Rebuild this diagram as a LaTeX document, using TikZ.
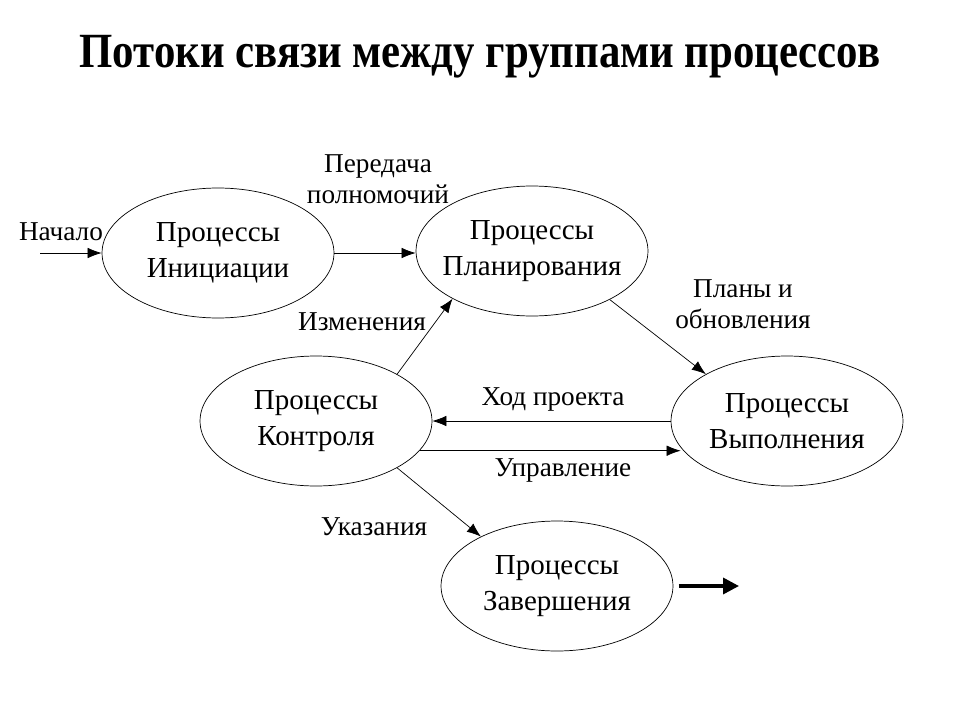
\documentclass[tikz,border=0pt]{standalone}
\usepackage{fontspec}
\setmainfont{Liberation Serif}
\usetikzlibrary{arrows.meta,positioning,shapes}

\begin{document}
\begin{tikzpicture}[x=0.02cm,y=-0.02cm,
  proc/.style={draw,ellipse,minimum width=4.64cm,minimum height=2.6cm,
    inner xsep=-0.4cm,inner ysep=0pt,
    align=center,font=\fontsize{16.5}{20.5}\selectfont},
  lbl/.style={align=center,inner sep=0pt,font=\fontsize{15.5}{17.5}\selectfont},
  flow/.style={-{Latex[length=8pt,width=6pt]}},
  bigflow/.style={line width=2pt,-{Triangle[length=9pt,width=9pt]}}]
  \useasboundingbox (0,0) rectangle (960,720); %Page frame

  \node[font=\bfseries\fontsize{28}{32}\selectfont\addfontfeature{FakeStretch=0.87}]
    (title) at (480,57) {Потоки связи между группами процессов};

  %Process groups
  \node[proc] (init) at (218,253) {Процессы\\Инициации};
  \node[proc] (plan) at (532,251) {Процессы\\Планирования};
  \node[proc] (ctrl) at (316,421) {Процессы\\Контроля};
  \node[proc] (exec) at (787,421) {Процессы\\Выполнения};
  \node[proc] (close) at (557,586) {Процессы\\Завершения};

  %Free ends
  \coordinate (start) at (40,253);  %Start of project
  \coordinate (finish) at (739,586); %End of project

  %Flows between groups
  \draw[flow] (start) -- (init.west);
  \draw[flow] (init.east) -- (init.east -| plan.west);
  \draw[flow] (ctrl.30) -- (plan.211);
  \draw[flow] (plan.-32) -- (exec.150);
  \draw[flow] (exec.west) -- (exec.west -| ctrl.east);
  \draw[flow] (ctrl.-16) -- (ctrl.-16 -| exec.194);
  \draw[flow] (ctrl.-30) -- (close.147);
  \draw[bigflow] ([xshift=3pt]close.east) -- (finish);

  %Flow labels
  \node[lbl] (lstart) at (61,232) {Начало};
  \node[lbl] (lpass) at (378,179) {Передача\\полномочий};
  \node[lbl] (lchange) at (362,322) {Изменения};
  \node[lbl] (lplans) at (743,304) {Планы и\\обновления};
  \node[lbl] (lprogress) at (553,399) {Ход проекта};
  \node[lbl] (lcontrol) at (563,470) {Управление};
  \node[lbl] (lorders) at (374,527) {Указания};
\end{tikzpicture}
\end{document}
